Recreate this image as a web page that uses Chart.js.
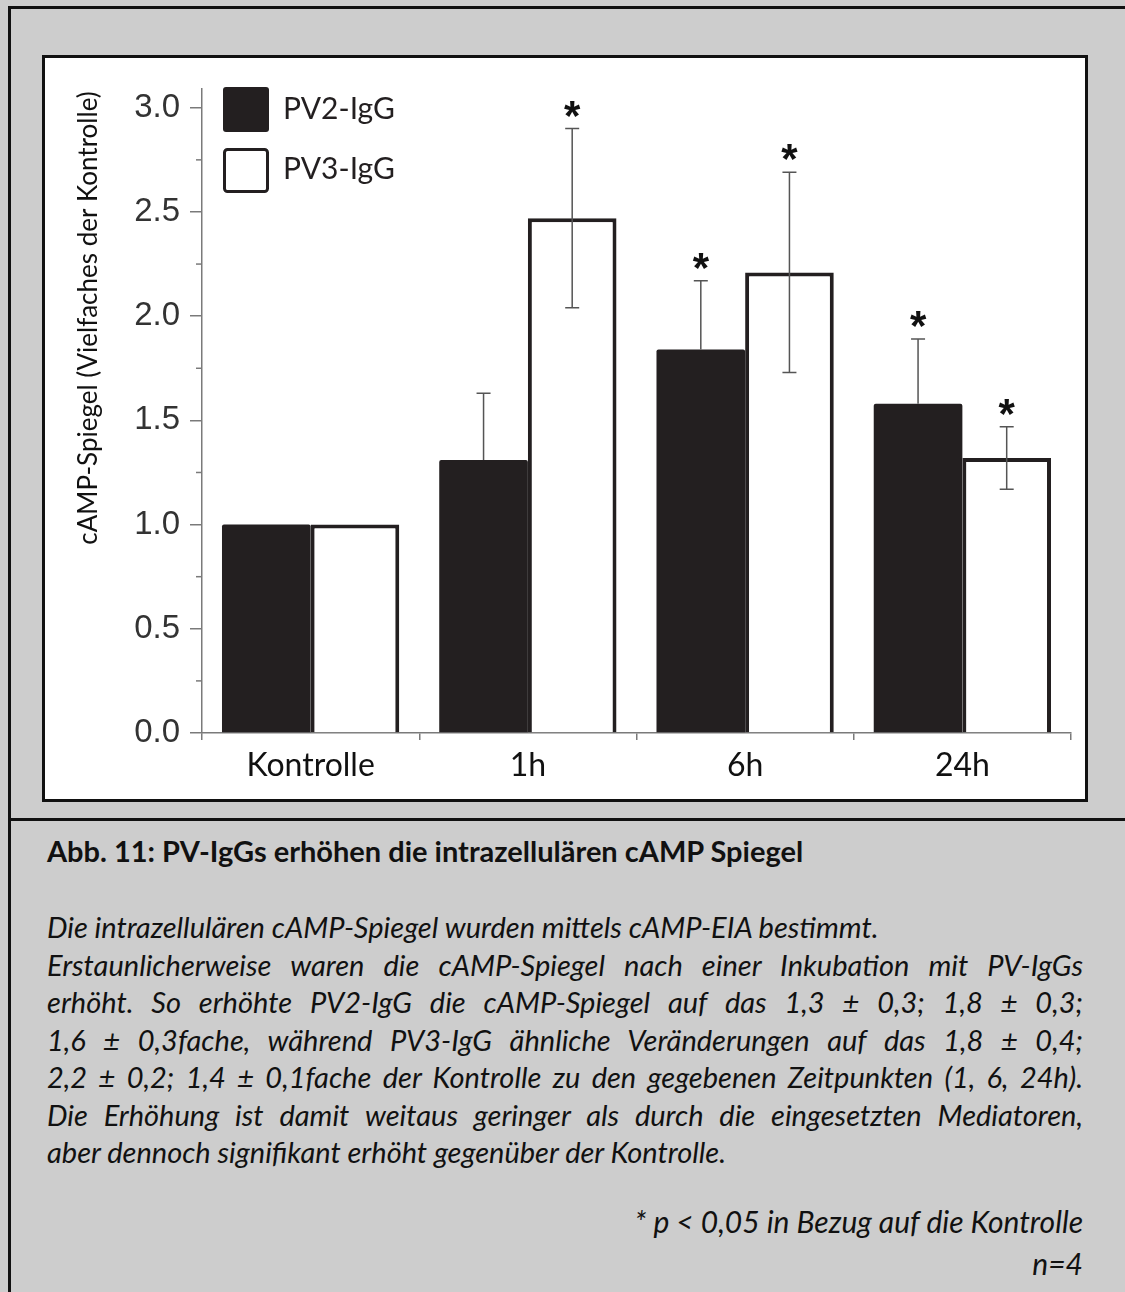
<!DOCTYPE html>
<html lang="de">
<head>
<meta charset="utf-8">
<title>Abb. 11: cAMP-Spiegel</title>
<script src="https://cdn.jsdelivr.net/npm/chart.js@4.4.1/dist/chart.umd.min.js"></script>
<style>
  html, body { margin: 0; padding: 0; }
  body {
    width: 1125px; height: 1292px; position: relative; overflow: hidden;
    background: #cdcdcd; font-family: Lato, sans-serif; color: #111;
  }
  #frame {
    position: absolute; left: 8px; top: 6px; width: 1200px; height: 1400px;
    border: 3px solid #111; box-sizing: border-box;
  }
  #chartBox {
    position: absolute; left: 42px; top: 55px; width: 1046px; height: 747px;
    background: #fff; border: 3px solid #111; box-sizing: border-box;
  }
  #chartBox canvas { position: absolute; left: 0; top: 0; }
  #sep { position: absolute; left: 8px; top: 818px; width: 1200px; height: 3px; background: #111; }
  .cap { position: absolute; left: 47px; width: 1036px; line-height: 37.5px; }
  .title { font-weight: bold; font-size: 29px; top: 832px; white-space: nowrap; }
  .body { font-style: italic; font-size: 29px; }
  .just { text-align: justify; text-align-last: justify; }
  .right { text-align: right; font-style: italic; font-size: 30px; }
</style>
</head>
<body>
<div id="frame"></div>
<div id="chartBox"><canvas id="campChart" width="1040" height="741"></canvas></div>
<div id="sep"></div>

<div class="cap title">Abb. 11: PV-IgGs erhöhen die intrazellulären cAMP Spiegel</div>
<div class="cap body" style="top:908px">Die intrazellulären cAMP-Spiegel wurden mittels cAMP-EIA bestimmt.</div>
<div class="cap body just" style="top:945.5px">Erstaunlicherweise waren die cAMP-Spiegel nach einer Inkubation mit PV-IgGs</div>
<div class="cap body just" style="top:983px">erhöht. So erhöhte PV2-IgG die cAMP-Spiegel auf das 1,3 ± 0,3; 1,8 ± 0,3;</div>
<div class="cap body just" style="top:1020.5px">1,6 ± 0,3fache, während PV3-IgG ähnliche Veränderungen auf das 1,8 ± 0,4;</div>
<div class="cap body just" style="top:1058px">2,2 ± 0,2; 1,4 ± 0,1fache der Kontrolle zu den gegebenen Zeitpunkten (1, 6, 24h).</div>
<div class="cap body just" style="top:1095.5px">Die Erhöhung ist damit weitaus geringer als durch die eingesetzten Mediatoren,</div>
<div class="cap body" style="top:1133px">aber dennoch signifikant erhöht gegenüber der Kontrolle.</div>
<div class="cap right" style="top:1203px">* p &lt; 0,05 in Bezug auf die Kontrolle</div>
<div class="cap right" style="top:1245px">n=4</div>

<script>
// Data
const categories = ['Kontrolle', '1h', '6h', '24h'];
const pv2Values = [1.00, 1.31, 1.84, 1.58];
const pv2Errors = [0, 0.32, 0.33, 0.31];
const pv2Significant = [false, false, true, true];
const pv3Values = [1.00, 2.47, 2.21, 1.32];
const pv3Errors = [0, 0.43, 0.48, 0.15];
const pv3Significant = [false, true, true, true];
const yTicks = [0, 0.5, 1.0, 1.5, 2.0, 2.5, 3.0];
const yAxisTitle = 'cAMP-Spiegel (Vielfaches der Kontrolle)';

const barBlack = '#231f20';
const axisColor = '#7a7a7a';
const errorColor = '#555';

// Error bars, asterisks, minor ticks, legend and y title
const extrasPlugin = {
    id: 'extras',
    afterDraw(chart) {
        const ctx = chart.ctx;
        const xScale = chart.scales.x;
        const yScale = chart.scales.y;
        ctx.save();

        // minor ticks between the labelled ones
        ctx.strokeStyle = axisColor;
        ctx.lineWidth = 1.5;
        for (let i = 0; i < yTicks.length - 1; i++) {
            const py = yScale.getPixelForValue((yTicks[i] + yTicks[i + 1]) / 2);
            ctx.beginPath();
            ctx.moveTo(xScale.left - 6, py);
            ctx.lineTo(xScale.left, py);
            ctx.stroke();
        }

        // error bars + significance stars
        chart.data.datasets.forEach((ds, di) => {
            const meta = chart.getDatasetMeta(di);
            meta.data.forEach((bar, i) => {
                const err = ds.errors[i];
                if (!err) return;
                const top = yScale.getPixelForValue(ds.data[i] + err);
                const bottom = ds.errorBoth ? yScale.getPixelForValue(ds.data[i] - err) : bar.y;
                ctx.strokeStyle = errorColor;
                ctx.lineWidth = 1.5;
                ctx.beginPath();
                ctx.moveTo(bar.x, top);
                ctx.lineTo(bar.x, bottom);
                ctx.moveTo(bar.x - 7, top);
                ctx.lineTo(bar.x + 7, top);
                if (ds.errorBoth) {
                    ctx.moveTo(bar.x - 7, bottom);
                    ctx.lineTo(bar.x + 7, bottom);
                }
                ctx.stroke();

                if (ds.significant[i]) {
                    ctx.fillStyle = '#111';
                    ctx.font = 'bold 42px "Liberation Sans"';
                    ctx.textAlign = 'center';
                    ctx.textBaseline = 'alphabetic';
                    ctx.fillText('*', bar.x, top + 1);
                }
            });
        });

        // legend
        ctx.font = '30px Lato';
        ctx.textAlign = 'left';
        ctx.textBaseline = 'alphabetic';
        ctx.fillStyle = barBlack;
        ctx.beginPath();
        ctx.roundRect(178, 29, 46, 45, 3);
        ctx.fill();
        ctx.fillText(chart.data.datasets[0].label, 238, 61);

        ctx.strokeStyle = barBlack;
        ctx.lineWidth = 3;
        ctx.beginPath();
        ctx.roundRect(179.5, 91.5, 43, 42, 3);
        ctx.stroke();
        ctx.fillText(chart.data.datasets[1].label, 238, 121);

        // rotated y axis title
        ctx.translate(44, 260);
        ctx.rotate(-Math.PI / 2);
        ctx.font = '26px Lato';
        ctx.textAlign = 'center';
        ctx.textBaseline = 'middle';
        ctx.fillStyle = '#111';
        ctx.fillText(yAxisTitle, 0, 0);

        ctx.restore();
    }
};

new Chart(document.getElementById('campChart'), {
    type: 'bar',
    data: {
        labels: categories,
        datasets: [{
            label: 'PV2-IgG',
            data: pv2Values,
            errors: pv2Errors,
            significant: pv2Significant,
            errorBoth: false,
            backgroundColor: barBlack,
            borderRadius: 2,
            borderWidth: 0
        }, {
            label: 'PV3-IgG',
            data: pv3Values,
            errors: pv3Errors,
            significant: pv3Significant,
            errorBoth: true,
            backgroundColor: '#ffffff',
            borderColor: barBlack,
            borderWidth: 4
        }]
    },
    options: {
        responsive: false,
        animation: false,
        datasets: { bar: { categoryPercentage: 0.816, barPercentage: 1 } },
        layout: { padding: { top: 31, right: 14, left: 0, bottom: 0 } },
        plugins: {
            legend: { display: false },
            tooltip: { enabled: false }
        },
        scales: {
            x: {
                offset: true,
                grid: { offset: true, drawOnChartArea: false, tickLength: 7, color: axisColor, lineWidth: 1.5 },
                border: { color: axisColor, width: 1.5 },
                ticks: { color: '#111', font: { family: 'Lato', size: 32 }, padding: 6 },
                afterFit(scale) { scale.height = 66; }
            },
            y: {
                min: 0,
                max: 3.09,
                afterBuildTicks(scale) { scale.ticks = yTicks.map(v => ({ value: v })); },
                grid: { drawOnChartArea: false, tickLength: 12, color: axisColor, lineWidth: 1.5 },
                border: { color: axisColor, width: 1.5 },
                ticks: {
                    callback: v => v.toFixed(1),
                    color: '#333',
                    font: { family: 'Liberation Sans', size: 33 },
                    padding: 10
                },
                afterFit(scale) { scale.width = 157; }
            }
        }
    },
    plugins: [extrasPlugin]
});
</script>
</body>
</html>
